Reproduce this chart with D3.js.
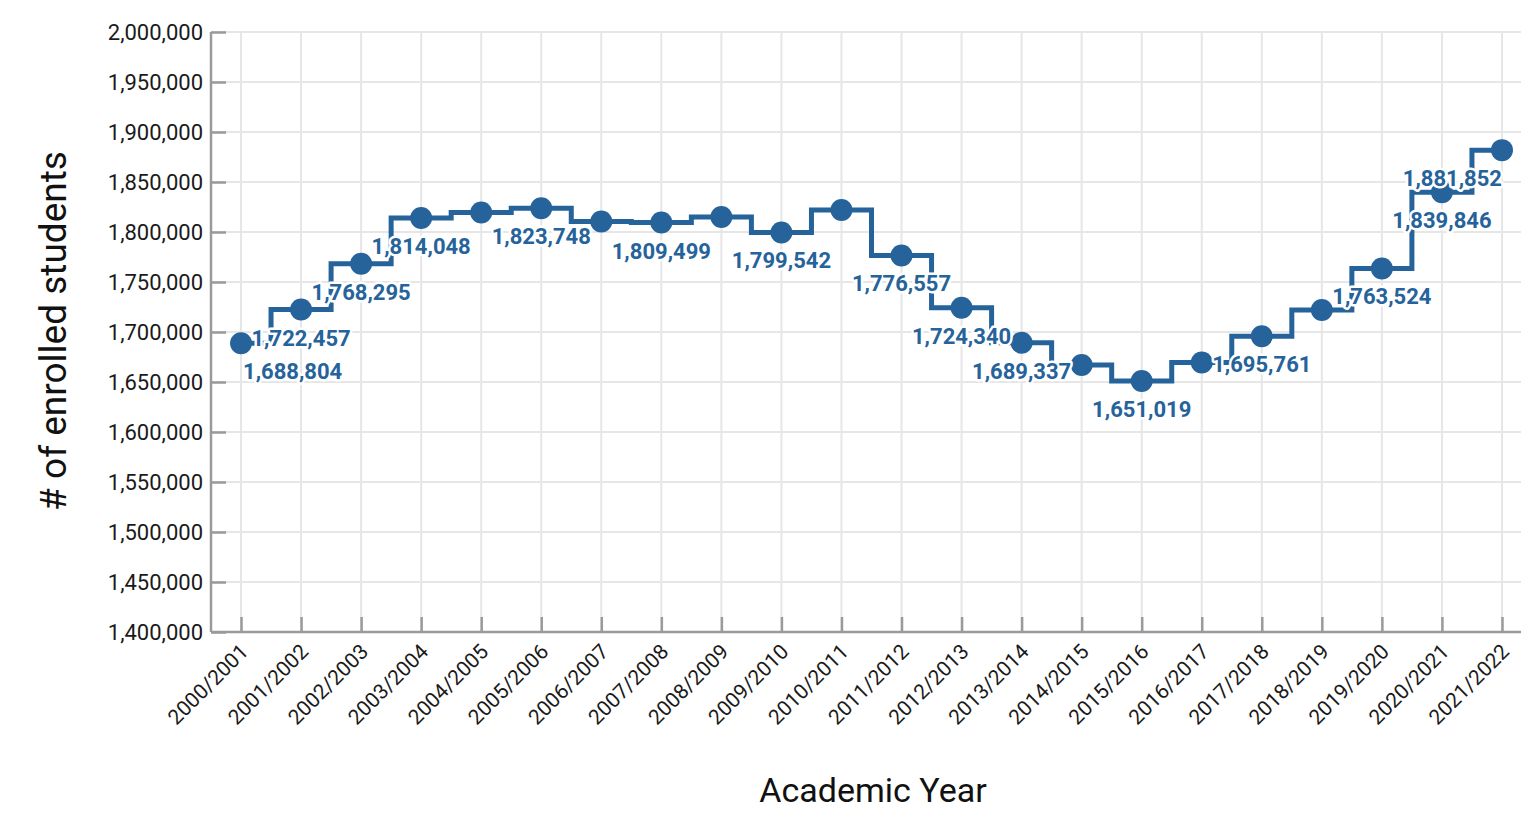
<!DOCTYPE html>
<html>
<head>
<meta charset="utf-8">
<script src="https://cdn.jsdelivr.net/npm/d3@7"></script>
<style>
  html, body { margin: 0; padding: 0; background: #fff; }
  svg { display: block; font-family: Roboto, "Noto Sans", sans-serif; }
</style>
</head>
<body>
<svg id="chart" width="1521" height="813"></svg>
<script>
const years = ["2000/2001","2001/2002","2002/2003","2003/2004","2004/2005","2005/2006","2006/2007","2007/2008","2008/2009","2009/2010","2010/2011","2011/2012","2012/2013","2013/2014","2014/2015","2015/2016","2016/2017","2017/2018","2018/2019","2019/2020","2020/2021","2021/2022"];
const enrolled = [1688804,1722457,1768295,1814048,1819500,1823748,1810500,1809499,1815000,1799542,1822000,1776557,1724340,1689337,1667000,1651019,1669500,1695761,1722000,1763524,1839846,1881852];
const showLabel = [true,true,true,true,false,true,false,true,false,true,false,true,true,true,false,true,false,true,false,true,true,true];
const yTicks = [1400000,1450000,1500000,1550000,1600000,1650000,1700000,1750000,1800000,1850000,1900000,1950000,2000000];

(function () {
const W = 1521, H = 813;
const pL = 211, pR = 1532, pT = 32, pB = 632;
const color = "#25639a";
const svg = d3.select("#chart");
const fmt = d3.format(",");

const x = d3.scalePoint().domain(years).range([pL, pR]).padding(0.5);
const y = d3.scaleLinear().domain([1400000, 2000000]).range([pB, pT]);

// grid
const grid = svg.append("g");
grid.selectAll("line.h").data(yTicks).join("line").attr("class", "h")
  .attr("x1", pL).attr("x2", pR)
  .attr("y1", d => y(d)).attr("y2", d => y(d))
  .attr("stroke", "#e6e6e6").attr("stroke-width", 2);
grid.selectAll("line.v").data(years).join("line").attr("class", "v")
  .attr("x1", d => x(d)).attr("x2", d => x(d))
  .attr("y1", pT).attr("y2", pB)
  .attr("stroke", "#e6e6e6").attr("stroke-width", 2);

// y axis
const yAxis = svg.append("g").attr("transform", `translate(${pL},0)`)
  .call(d3.axisLeft(y).tickValues(yTicks).tickFormat(fmt).tickSize(-15).tickPadding(8));
yAxis.select(".domain").attr("stroke", "#9a9a9a").attr("stroke-width", 2.5).attr("d", `M0,${pT}V${pB}`);
yAxis.selectAll(".tick line").attr("stroke", "#9a9a9a").attr("stroke-width", 2.5);
yAxis.selectAll(".tick text").attr("font-size", 22).attr("fill", "#1a1a1a").attr("font-family", "Roboto");

// x axis
const xAxis = svg.append("g").attr("transform", `translate(0,${pB})`)
  .call(d3.axisBottom(x).tickSize(-15).tickPadding(0));
xAxis.select(".domain").attr("stroke", "#9a9a9a").attr("stroke-width", 2.5).attr("d", `M${pL},0H${pR}`);
xAxis.selectAll(".tick line").attr("stroke", "#9a9a9a").attr("stroke-width", 2.5);
xAxis.selectAll(".tick text")
  .attr("font-size", 21).attr("fill", "#1a1a1a").attr("font-family", "Roboto")
  .attr("text-anchor", "end").attr("y", 0).attr("dy", 0)
  .attr("transform", "translate(8,21) rotate(-45)");

// step line
const line = d3.line().x((d, i) => x(years[i])).y(d => y(d)).curve(d3.curveStep);
svg.append("path").datum(enrolled)
  .attr("d", line).attr("fill", "none")
  .attr("stroke", color).attr("stroke-width", 5);

// dots
svg.append("g").selectAll("circle").data(enrolled).join("circle")
  .attr("cx", (d, i) => x(years[i])).attr("cy", d => y(d))
  .attr("r", 11).attr("fill", color);

// labels
const lg = svg.append("g");
enrolled.forEach((v, i) => {
  if (!showLabel[i]) return;
  const px = x(years[i]), py = y(v);
  const t = lg.append("text")
    .attr("x", px).attr("y", py + 36)
    .attr("text-anchor", "middle")
    .attr("font-size", 22).attr("font-weight", "bold")
    .attr("font-family", "Roboto")
    .attr("fill", color)
    .attr("stroke", "#fff").attr("stroke-width", 5).attr("stroke-linejoin", "round")
    .attr("paint-order", "stroke")
    .text(fmt(v));
  const w = t.node().getComputedTextLength();
  if (px - w / 2 < pL) {
    t.attr("text-anchor", "start").attr("x", px + 2);
  } else if (px + w / 2 > W) {
    t.attr("text-anchor", "end").attr("x", px);
  }
});

// axis titles
svg.append("text")
  .attr("transform", "translate(66,331) rotate(-90)")
  .attr("text-anchor", "middle")
  .attr("font-size", 37).attr("fill", "#111").attr("font-family", "Roboto")
  .text("# of enrolled students");
svg.append("text")
  .attr("x", 873).attr("y", 802)
  .attr("text-anchor", "middle")
  .attr("font-size", 34).attr("fill", "#111").attr("font-family", "Roboto")
  .text("Academic Year");
})();
</script>
</body>
</html>
